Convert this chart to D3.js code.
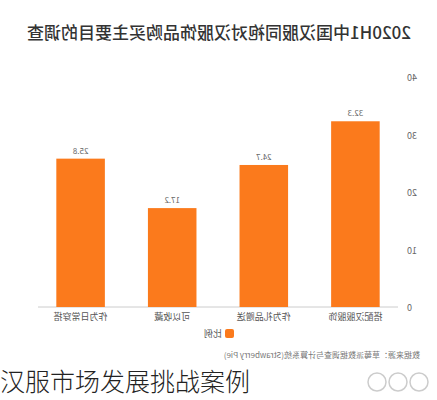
<!DOCTYPE html>
<html><head><meta charset="utf-8">
<script src="https://cdn.jsdelivr.net/npm/d3@7"></script>
<style>body{margin:0;background:#fff}svg{display:block}text{font-family:"Noto Sans CJK SC","Noto Sans",sans-serif}</style>
</head><body>
<script>
var categories = ["搭配汉服服饰", "作为礼品赠送", "可以收藏", "作为日常穿搭"];
var values = [32.3, 24.7, 17.2, 25.8];
var yTicks = [0, 10, 20, 30, 40];

var svg = d3.select("body").append("svg").attr("width", 437).attr("height", 400);
svg.append("rect").attr("width", 437).attr("height", 400).attr("fill", "#fff");

// the picture is mirrored left-right, so draw the chart normally and flip it
var g = svg.append("g").attr("transform", "translate(437,0) scale(-1,1)");

var x = d3.scaleBand().domain(categories).range([39, 399]).paddingInner(0.47).paddingOuter(0.2);
var y = d3.scaleLinear().domain([0, 40]).range([307, 77]);

g.append("text").attr("x", 218).attr("y", 39).attr("text-anchor", "middle")
  .attr("font-size", 17).attr("font-weight", 500).attr("fill", "#333")
  .text("2020H1中国汉服同袍对汉服饰品购买主要目的调查");

g.append("line").attr("x1", 39).attr("x2", 399).attr("y1", y(0)).attr("y2", y(0))
  .attr("stroke", "#ccc");

g.selectAll("text.tick").data(yTicks).enter().append("text")
  .attr("x", 30).attr("y", d => y(d) + 4).attr("text-anchor", "end")
  .attr("font-size", 9).attr("fill", "#666").text(d => d);

g.selectAll("rect.bar").data(values).enter().append("rect")
  .attr("x", (d, i) => x(categories[i])).attr("width", x.bandwidth())
  .attr("y", d => y(d)).attr("height", d => y(0) - y(d)).attr("fill", "#fb7a1c");

g.selectAll("text.val").data(values).enter().append("text")
  .attr("x", (d, i) => x(categories[i]) + x.bandwidth() / 2).attr("y", d => y(d) - 5)
  .attr("text-anchor", "middle").attr("font-size", 8).attr("fill", "#666").text(d => d);

g.selectAll("text.cat").data(categories).enter().append("text")
  .attr("x", d => x(d) + x.bandwidth() / 2).attr("y", 320)
  .attr("text-anchor", "middle").attr("font-size", 9).attr("fill", "#555").text(d => d);

g.append("rect").attr("x", 203).attr("y", 329).attr("width", 9).attr("height", 9).attr("rx", 2).attr("fill", "#fb7a1c");
g.append("text").attr("x", 215).attr("y", 337).attr("font-size", 9).attr("fill", "#555").text("比例");

g.append("text").attr("x", 17).attr("y", 358).attr("font-size", 8).attr("fill", "#777")
  .text("数据来源：草莓派数据调查与计算系统(Strawberry Pie)");

// overlay caption (not mirrored)
svg.append("text").attr("x", 0).attr("y", 391).attr("font-size", 25).attr("fill", "#222")
  .attr("font-family", "Noto Sans CJK SC").attr("font-weight", 300).text("汉服市场发展挑战案例");
[377, 398, 419].forEach(function (cx) {
  svg.append("circle").attr("cx", cx).attr("cy", 382).attr("r", 9)
    .attr("fill", "none").attr("stroke", "#ccc").attr("stroke-width", 1.5);
});
</script>
</body></html>
